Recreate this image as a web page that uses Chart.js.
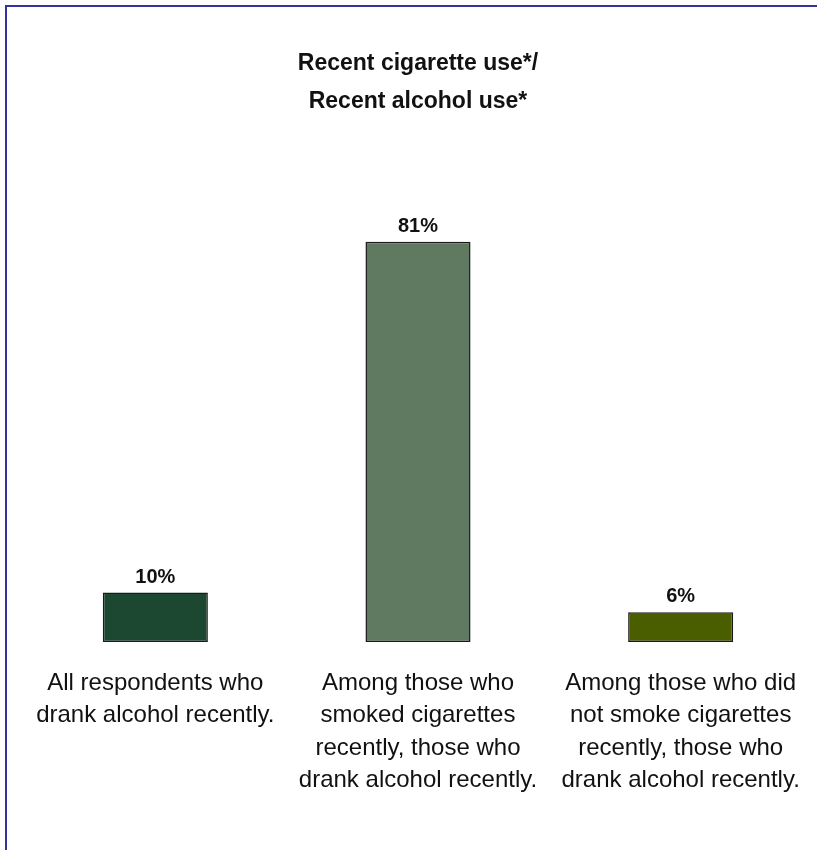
<!DOCTYPE html>
<html>
<head>
<meta charset="utf-8">
<script src="https://cdn.jsdelivr.net/npm/chart.js@4"></script>
<style>
    html, body { margin: 0; padding: 0; background: #fff; overflow: hidden; }
    #wrap { position: relative; width: 817px; height: 850px; }
    #frame {
        position: absolute; left: 5px; top: 5px;
        width: 840px; height: 870px;
        border: 2px solid #333399;
        box-sizing: border-box;
    }
    #chart { position: absolute; left: 0; top: 0; }
</style>
</head>
<body>
<div id="wrap">
    <div id="frame"></div>
    <canvas id="chart" width="817" height="850"></canvas>
</div>
<script>
// --- dữ liệu ---
const titleLines = ['Recent cigarette use*/', 'Recent alcohol use*'];
const categories = [
    ['All respondents who', 'drank alcohol recently.'],
    ['Among those who', 'smoked cigarettes', 'recently, those who', 'drank alcohol recently.'],
    ['Among those who did', 'not smoke cigarettes', 'recently, those who', 'drank alcohol recently.']
];
const values = [10, 81, 6];
const barColors = ['#1C4832', '#5F7A61', '#4A5E00'];
const yMin = 0;
const yMax = 100;

const FONT = '"Liberation Sans", Arial, sans-serif';

// plugin vẽ nhãn % phía trên cột
const valueLabels = {
    id: 'valueLabels',
    afterDatasetsDraw(chart) {
        const ctx = chart.ctx;
        const meta = chart.getDatasetMeta(0);
        ctx.save();
        ctx.font = 'bold 20px ' + FONT;
        ctx.fillStyle = '#111';
        ctx.textAlign = 'center';
        ctx.textBaseline = 'alphabetic';
        meta.data.forEach((bar, i) => {
            ctx.fillText(values[i] + '%', bar.x, bar.y - 10);
        });
        ctx.restore();
    }
};

new Chart(document.getElementById('chart'), {
    type: 'bar',
    data: {
        labels: categories,
        datasets: [{
            data: values,
            backgroundColor: barColors,
            borderColor: '#1a1a1a',
            borderWidth: 1.5,
            borderSkipped: false,
            categoryPercentage: 1,
            barPercentage: 0.4
        }]
    },
    options: {
        responsive: false,
        animation: false,
        layout: { padding: { left: 24, right: 5, top: 0, bottom: 28 } },
        plugins: {
            legend: { display: false },
            tooltip: { enabled: false },
            title: {
                display: true,
                text: titleLines,
                fullSize: false,
                color: '#111',
                font: { family: FONT, size: 23, weight: 'bold', lineHeight: '38px' },
                padding: { top: 45, bottom: 27 }
            }
        },
        scales: {
            x: {
                grid: { display: false, drawTicks: false },
                border: { display: false },
                ticks: {
                    color: '#111',
                    font: { family: FONT, size: 24, lineHeight: '32.5px' },
                    padding: 25,
                    maxRotation: 0,
                    autoSkip: false
                },
                // bỏ phần đệm tự thêm cho nhãn đầu/cuối
                afterFit(scale) {
                    scale.paddingLeft = 0;
                    scale.paddingRight = 0;
                }
            },
            y: {
                display: false,
                min: yMin,
                max: yMax
            }
        }
    },
    plugins: [valueLabels]
});
</script>
</body>
</html>
